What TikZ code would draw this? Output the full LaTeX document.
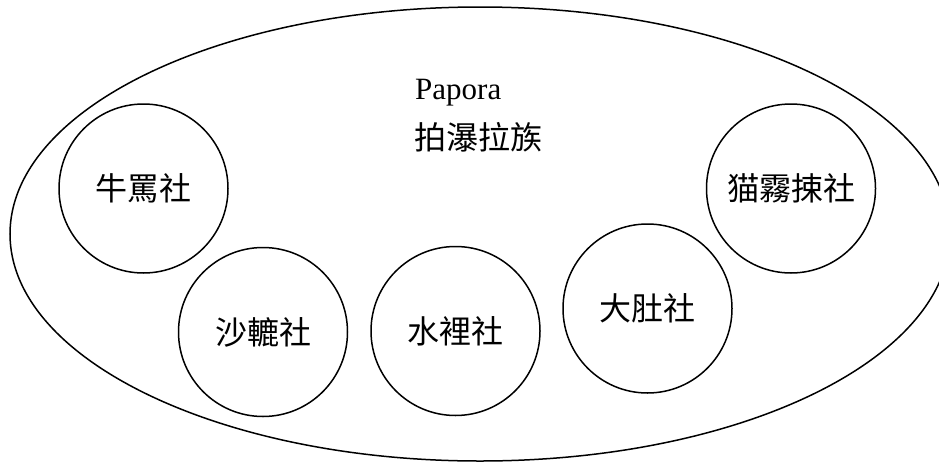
\documentclass[tikz,border=0pt]{standalone}
\usepackage{fontspec}
\setmainfont{Liberation Serif}
\newfontfamily\cjk{Noto Sans CJK TC}
\usetikzlibrary{shapes.geometric}
\tikzset{
  outer/.style={draw, line width=1.5pt, ellipse, inner sep=0pt, minimum width=940pt, minimum height=454pt},
  she/.style={draw, line width=1.5pt, circle, inner sep=0pt, minimum size=169pt, font=\cjk\fontsize{32}{36}\selectfont},
  lab/.style={anchor=west, inner sep=0pt}
}
\begin{document}
\begin{tikzpicture}[x=1pt,y=-1pt]
\useasboundingbox (0,0) rectangle (939,463);
\node[outer] (tribe) at (480,234) {};
\node[lab, font=\fontsize{31}{34}\selectfont] (en) at (415,93) {Papora};
\node[lab, font=\cjk\fontsize{32}{36}\selectfont] (zh) at (414,137) {拍瀑拉族};
\node[she] (niuma) at (143.5,188.5) {牛罵社};
\node[she] (shalu) at (263,332) {沙轆社};
\node[she] (shuili) at (455.5,331) {水裡社};
\node[she] (dadu) at (647.5,308.5) {大肚社};
\node[she] (maowu) at (791,188.5) {猫霧捒社};
\end{tikzpicture}
\end{document}
